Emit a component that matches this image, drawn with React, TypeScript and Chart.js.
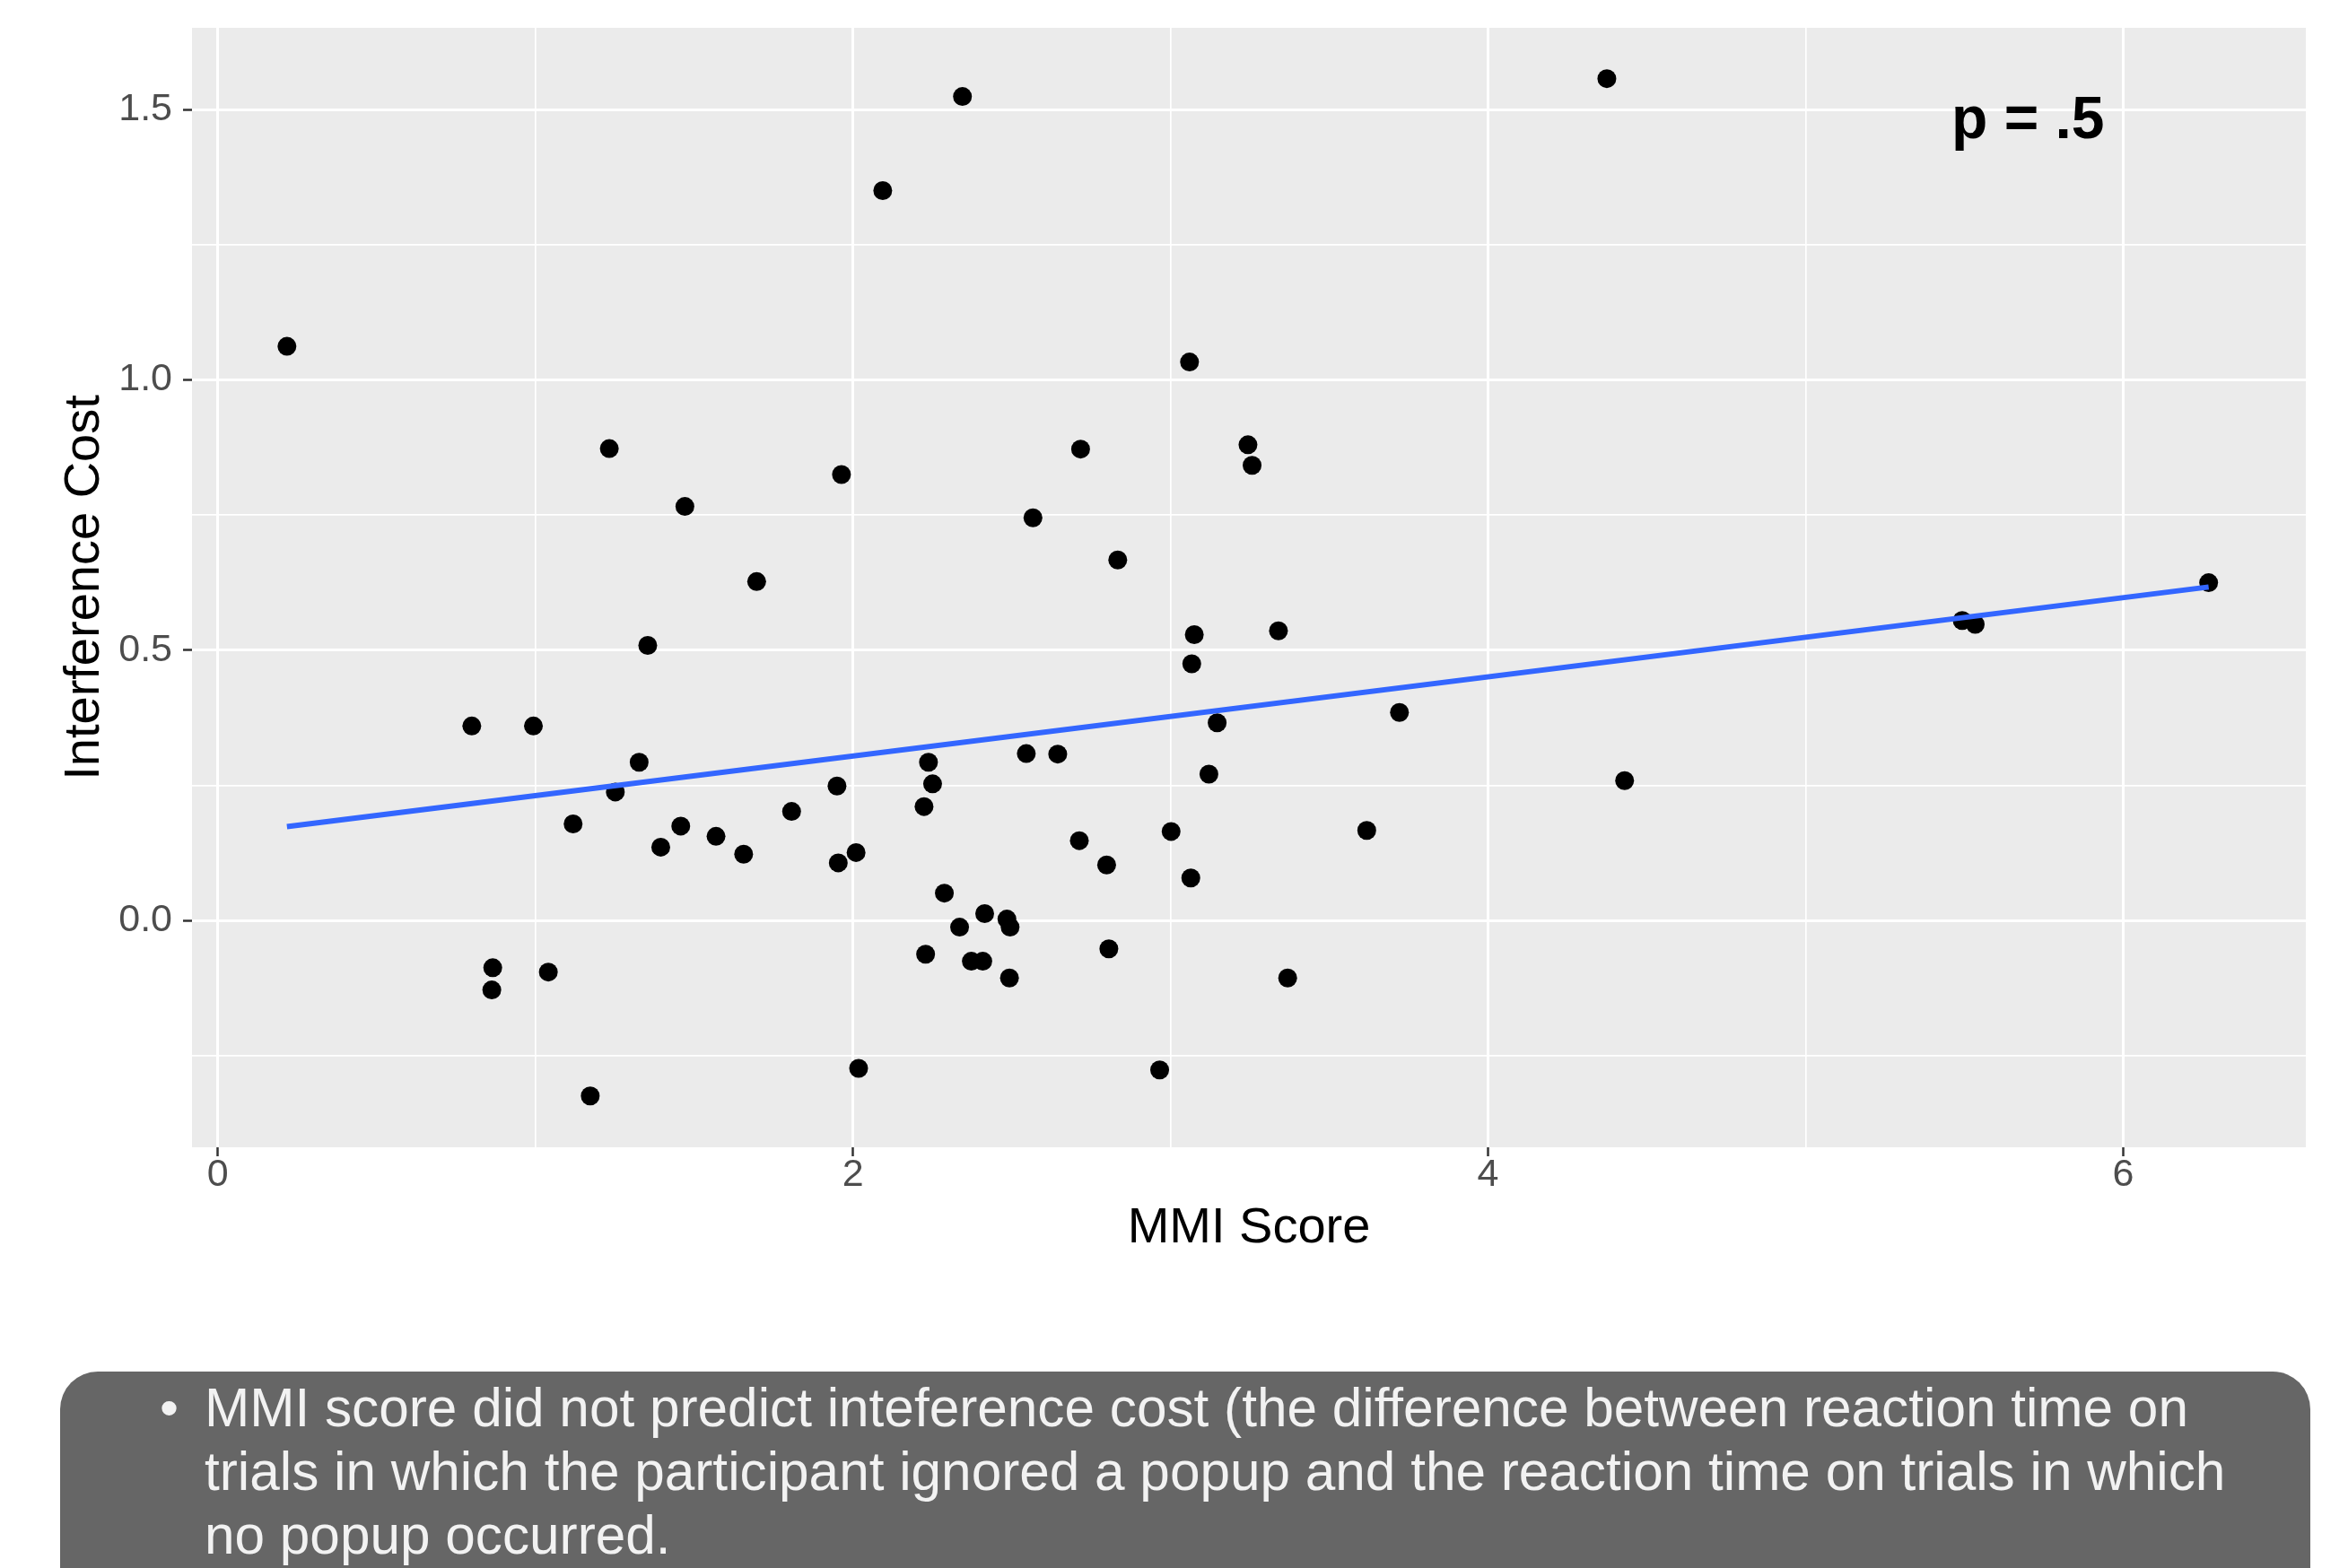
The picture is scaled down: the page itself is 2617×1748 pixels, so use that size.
import React, { useEffect, useRef } from "react";
import { Chart, registerables } from "chart.js";

Chart.register(...registerables);

// ---------- Data ----------
const mmiScores = [
  0.218, 2.345, 2.094, 4.374, 3.06, 1.233, 1.964, 2.717, 3.244, 3.257,
  1.471, 2.567, 1.697, 2.834, 6.269, 1.354, 3.075, 3.34, 3.067, 5.493,
  5.534, 0.8, 0.994, 3.721, 3.147, 1.327, 2.238, 2.251, 2.546, 2.645,
  1.95, 3.121, 4.43, 1.252, 2.224, 1.807, 1.119, 1.458, 1.569, 1.395,
  1.656, 2.01, 1.954, 2.713, 3.002, 3.618, 2.799, 3.064, 2.288, 2.415,
  2.485, 2.495, 2.336, 2.229, 2.373, 2.409, 2.806, 2.493, 3.369, 0.866,
  0.863, 1.041, 2.018, 2.966, 1.173,
];
const interferenceCosts = [
  1.062, 1.524, 1.35, 1.557, 1.033, 0.873, 0.825, 0.872, 0.88, 0.842,
  0.766, 0.745, 0.627, 0.667, 0.625, 0.509, 0.529, 0.536, 0.475, 0.555,
  0.548, 0.36, 0.36, 0.385, 0.366, 0.293, 0.293, 0.253, 0.309, 0.308,
  0.249, 0.271, 0.259, 0.238, 0.211, 0.202, 0.179, 0.175, 0.156, 0.136,
  0.123, 0.126, 0.107, 0.148, 0.165, 0.167, 0.103, 0.079, 0.051, 0.013,
  0.003, -0.012, -0.012, -0.062, -0.075, -0.075, -0.052, -0.106, -0.106, -0.087,
  -0.128, -0.095, -0.273, -0.276, -0.324,
];
const fitLineX = [0.218, 6.269];
const fitLineY = [0.174, 0.617];

const xMajorTicks = [0, 2, 4, 6];
const xTickLabels = ["0", "2", "4", "6"];
const xMinorTicks = [1, 3, 5];
const yMajorTicks = [0, 0.5, 1.0, 1.5];
const yTickLabels = ["0.0", "0.5", "1.0", "1.5"];
const yMinorTicks = [-0.25, 0.25, 0.75, 1.25];

const xTitle = "MMI Score";
const yTitle = "Interference Cost";
const annotationText = "p = .5";
const annotationPos = [5.7, 1.478];

const bulletLines = [
  "MMI score did not predict inteference cost (the difference between reaction time on",
  "trials in which the participant ignored a popup and the reaction time on trials in which",
  "no popup occurred.",
];

// ---------- Layout constants ----------
const W = 2617;
const CH = 1420;
const FONT = '"Liberation Sans", Arial, Helvetica, sans-serif';

const isMajor = (list: number[], v: any) =>
  v !== undefined && list.some((m) => Math.abs(m - v) < 1e-9);

export default function App() {
  const ref = useRef<HTMLCanvasElement | null>(null);

  useEffect(() => {
    if (!ref.current) return;

    const panelBg = {
      id: "panelBg",
      beforeDraw(chart: any) {
        const { ctx, chartArea } = chart;
        ctx.save();
        ctx.fillStyle = "#EBEBEB";
        ctx.fillRect(
          chartArea.left,
          chartArea.top,
          chartArea.right - chartArea.left,
          chartArea.bottom - chartArea.top
        );
        ctx.restore();
      },
    };

    const annot = {
      id: "annot",
      afterDatasetsDraw(chart: any) {
        const { ctx, scales } = chart;
        ctx.save();
        ctx.font = `bold 66px ${FONT}`;
        ctx.fillStyle = "#000000";
        ctx.textAlign = "center";
        ctx.textBaseline = "middle";
        ctx.fillText(
          annotationText,
          scales.x.getPixelForValue(annotationPos[0]),
          scales.y.getPixelForValue(annotationPos[1])
        );
        ctx.restore();
      },
    };

    const chart = new Chart(ref.current, {
      type: "scatter",
      data: {
        datasets: [
          {
            type: "line",
            label: "fit",
            data: fitLineX.map((x, i) => ({ x, y: fitLineY[i] })),
            borderColor: "#3366FF",
            borderWidth: 6,
            pointRadius: 0,
            fill: false,
            order: 0,
          } as any,
          {
            label: "points",
            data: mmiScores.map((x, i) => ({ x, y: interferenceCosts[i] })),
            backgroundColor: "#000000",
            borderWidth: 0,
            pointRadius: 10.5,
            order: 1,
          },
        ],
      },
      options: {
        responsive: false,
        animation: false,
        layout: { padding: { top: 31, right: 47, left: 0, bottom: 0 } },
        plugins: {
          legend: { display: false },
          tooltip: { enabled: false },
        },
        scales: {
          x: {
            type: "linear",
            min: -0.081,
            max: 6.575,
            afterBuildTicks: (s: any) => {
              s.ticks = [...xMajorTicks, ...xMinorTicks]
                .sort((a, b) => a - b)
                .map((v) => ({ value: v }));
            },
            afterFit: (s: any) => {
              s.height = CH - 1279;
              s.paddingLeft = 0;
              s.paddingRight = 0;
              s.paddingTop = 0;
              s.paddingBottom = 0;
            },
            border: { display: false },
            grid: {
              color: "#FFFFFF",
              lineWidth: (c: any) => (isMajor(xMajorTicks, c.tick?.value) ? 3 : 1.7),
              tickLength: 10,
              tickWidth: 2.5,
              tickColor: (c: any) =>
                isMajor(xMajorTicks, c.tick?.value) ? "#333333" : "rgba(0,0,0,0)",
            },
            ticks: {
              autoSkip: false,
              maxRotation: 0,
              padding: 0,
              color: "#4D4D4D",
              font: { family: FONT, size: 43, lineHeight: 1 },
              callback: (v: any) => {
                const i = xMajorTicks.findIndex((m) => Math.abs(m - v) < 1e-9);
                return i >= 0 ? xTickLabels[i] : "";
              },
            },
            title: {
              display: true,
              text: xTitle,
              color: "#000000",
              font: { family: FONT, size: 56 },
              padding: { top: 0, bottom: 17 },
            },
          },
          y: {
            type: "linear",
            min: -0.419,
            max: 1.651,
            afterBuildTicks: (s: any) => {
              s.ticks = [...yMajorTicks, ...yMinorTicks]
                .sort((a, b) => a - b)
                .map((v) => ({ value: v }));
            },
            afterFit: (s: any) => {
              s.width = 214;
              s.paddingLeft = 0;
              s.paddingRight = 0;
              s.paddingTop = 0;
              s.paddingBottom = 0;
            },
            border: { display: false },
            grid: {
              color: "#FFFFFF",
              lineWidth: (c: any) => (isMajor(yMajorTicks, c.tick?.value) ? 3 : 1.7),
              tickLength: 10,
              tickWidth: 2.5,
              tickColor: (c: any) =>
                isMajor(yMajorTicks, c.tick?.value) ? "#333333" : "rgba(0,0,0,0)",
            },
            ticks: {
              autoSkip: false,
              padding: 12,
              color: "#4D4D4D",
              font: { family: FONT, size: 43 },
              callback: (v: any) => {
                const i = yMajorTicks.findIndex((m) => Math.abs(m - v) < 1e-9);
                return i >= 0 ? yTickLabels[i] : "";
              },
            },
            title: {
              display: true,
              text: yTitle,
              color: "#000000",
              font: { family: FONT, size: 56 },
              padding: { top: 61, bottom: 0 },
            },
          },
        },
      },
      plugins: [panelBg, annot],
    } as any);

    return () => chart.destroy();
  }, []);

  return (
    <div
      style={{
        position: "absolute",
        left: 0,
        top: 0,
        width: W,
        height: 1748,
        overflow: "hidden",
        background: "#FFFFFF",
      }}
    >
      <canvas
        ref={ref}
        width={W}
        height={CH}
        style={{ position: "absolute", left: 0, top: 0, width: W, height: CH }}
      />
      <div
        style={{
          position: "absolute",
          left: 67,
          top: 1529,
          width: 2508,
          height: 280,
          background: "#666666",
          borderRadius: 42,
        }}
      >
        <div
          style={{
            position: "absolute",
            left: 111,
            top: 5,
            fontFamily: FONT,
            fontSize: 60,
            lineHeight: "71px",
            color: "#F2F2F2",
          }}
        >
          •
        </div>
        <div
          style={{
            position: "absolute",
            left: 161,
            top: 5,
            fontFamily: FONT,
            fontSize: 60.3,
            lineHeight: "71px",
            color: "#F2F2F2",
            whiteSpace: "pre",
          }}
        >
          {bulletLines.map((l, i) => (
            <div key={i}>{l}</div>
          ))}
        </div>
      </div>
    </div>
  );
}
